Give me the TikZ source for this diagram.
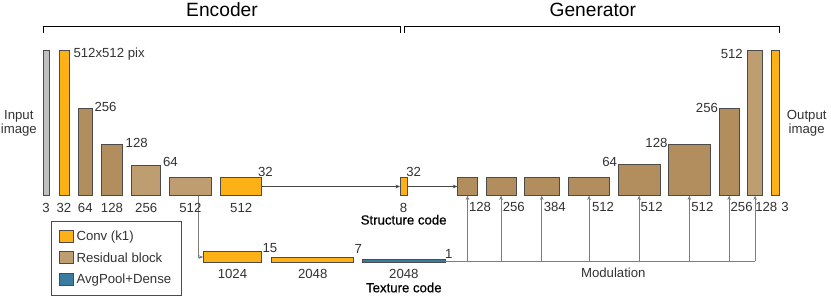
\documentclass[tikz,border=0pt]{standalone}
\usepackage{fontspec}
\setmainfont{Liberation Sans}
\newfontfamily\heavierfont[FakeBold=0.6]{Liberation Sans}
\usetikzlibrary{arrows.meta,calc}
\definecolor{convc}{RGB}{252,178,22}
\definecolor{resdark}{RGB}{178,141,94}
\definecolor{reslight}{RGB}{190,158,113}
\definecolor{inpc}{RGB}{192,192,192}
\definecolor{bluec}{RGB}{58,124,160}
\definecolor{edgec}{RGB}{75,75,75}
\definecolor{txtc}{RGB}{50,50,50}
\definecolor{linec}{RGB}{125,125,125}
\definecolor{darkline}{RGB}{70,70,70}
\begin{document}
\begin{tikzpicture}[x=1pt,y=-1pt,
  bar/.style={draw=edgec, line width=0.9pt, inner sep=0pt, outer sep=0pt, anchor=north west},
  convbar/.style={bar, fill=convc},
  resd/.style={bar, fill=resdark},
  resl/.style={bar, fill=reslight},
  inbar/.style={bar, fill=inpc},
  bluebar/.style={bar, fill=bluec},
  lbl/.style={inner sep=0pt, outer sep=0pt, text=txtc, font=\fontsize{13.2}{14}\selectfont},
  blk/.style={inner sep=0pt, outer sep=0pt, text=black, font=\heavierfont\fontsize{13.2}{14}\selectfont},
  ttl/.style={inner sep=0pt, outer sep=0pt, text=black, font=\fontsize{19.2}{22}\selectfont},
  conn/.style={draw=linec, line width=0.7pt, -{Stealth[length=4.5pt,width=3.6pt]}},
  sconn/.style={draw=darkline, line width=0.7pt, -{Stealth[length=4.5pt,width=3.6pt]}},
  brk/.style={draw=black, line width=0.9pt},
]
\useasboundingbox (0,0) rectangle (831,305);

% titles and brackets
\node[ttl, anchor=base] (enct) at (222,16.7) {Encoder};
\node[ttl, anchor=base] (gent) at (592.8,16.7) {Generator};
\draw[brk] (43.3,33) -- (43.3,26) -- (400.7,26) -- (400.7,33);
\draw[brk] (404,33) -- (404,26) -- (779,26) -- (779,33);

% encoder bars
\node[inbar, minimum width=6.3pt, minimum height=145.5pt] (in) at (43,50) {};
\node[convbar, minimum width=10pt, minimum height=145.5pt] (c0) at (59,50) {};
\node[resd, minimum width=14pt, minimum height=87pt] (r1) at (78.3,108.5) {};
\node[resd, minimum width=20.6pt, minimum height=51.5pt] (r2) at (101.7,144) {};
\node[resl, minimum width=29pt, minimum height=30.5pt] (r3) at (131.7,165) {};
\node[resl, minimum width=41.7pt, minimum height=18pt] (r4) at (169.5,177.5) {};
\node[convbar, minimum width=41pt, minimum height=18pt] (c5) at (220.7,177.5) {};
\node[convbar, minimum width=7.3pt, minimum height=18pt] (sc) at (400,177.5) {};

% generator bars
\node[resd, minimum width=20.4pt, minimum height=18pt] (g1) at (457.3,177.5) {};
\node[resd, minimum width=30pt, minimum height=18pt] (g2) at (486,177.5) {};
\node[resd, minimum width=35pt, minimum height=18pt] (g3) at (524.3,177.5) {};
\node[resd, minimum width=41.4pt, minimum height=18pt] (g4) at (568.3,177.5) {};
\node[resd, minimum width=41.7pt, minimum height=30.8pt] (g5) at (618.3,164.7) {};
\node[resd, minimum width=41.3pt, minimum height=51.5pt] (g6) at (668.7,144) {};
\node[resd, minimum width=20.3pt, minimum height=86.8pt] (g7) at (719,108.7) {};
\node[resl, minimum width=15.2pt, minimum height=145.5pt] (g8) at (747.5,50) {};
\node[convbar, minimum width=8pt, minimum height=145.5pt] (out) at (771,50) {};

% texture branch
\node[convbar, minimum width=58.4pt, minimum height=10.8pt] (t1) at (203.3,251.7) {};
\node[convbar, minimum width=82pt, minimum height=5.5pt] (t2) at (271.7,257) {};
\node[bluebar, minimum width=82.3pt, minimum height=3.3pt] (t3) at (362.7,259.3) {};

% connectors
\draw[sconn] (c5.east) -- (sc.west);
\draw[sconn] (sc.east) -- (g1.west);
\coordinate (rtap) at ($(r4.south west)+(28.8,0)$);
\draw[conn] (rtap) |- (t1.west);
\foreach \g in {g1,g2,g3,g4,g5,g6,g7,g8}{
  \coordinate (m\g) at (\g.south |- t3.east);
}
\draw[draw=linec, line width=0.7pt] (t3.east) -- (mg8);
\foreach \g in {g1,g2,g3,g4,g5,g6,g7,g8}{
  \draw[conn] (m\g) -- (\g.south);
}

% side texts
\node[lbl, anchor=base] (inp1) at (18.8,119.7) {Input};
\node[lbl, anchor=base] (inp2) at (18.8,133.5) {image};
\node[lbl, anchor=base] (outp1) at (806.7,119.7) {Output};
\node[lbl, anchor=base] (outp2) at (806.7,133.5) {image};

% top labels encoder
\node[lbl, anchor=base west] (l0) at (73.5,58) {512x512 pix};
\node[lbl, anchor=base west] (l1) at (94.5,111.7) {256};
\node[lbl, anchor=base west] (l2) at (125.7,147.7) {128};
\node[lbl, anchor=base west] (l3) at (163,166.7) {64};
\node[lbl, anchor=base west] (l4) at (258,176) {32};
\node[lbl, anchor=base west] (l5) at (406.3,176) {32};
\node[lbl, anchor=base west] (l6) at (262.5,252.3) {15};
\node[lbl, anchor=base west] (l7) at (354.5,253) {7};
\node[lbl, anchor=base west] (l8) at (445,258.3) {1};

% top labels generator
\node[lbl, anchor=base east] (k5) at (617,166.7) {64};
\node[lbl, anchor=base east] (k6) at (667.5,147.7) {128};
\node[lbl, anchor=base east] (k7) at (718,112.3) {256};
\node[lbl, anchor=base east] (k8) at (742.8,58.3) {512};

% bottom labels encoder
\node[lbl, anchor=base] (b0) at ($(in.south)+(0,16.5)$) {3};
\node[lbl, anchor=base] (b1) at ($(c0.south)+(0,16.5)$) {32};
\node[lbl, anchor=base] (b2) at ($(r1.south)+(0,16.5)$) {64};
\node[lbl, anchor=base] (b3) at ($(r2.south)+(0,16.5)$) {128};
\node[lbl, anchor=base] (b4) at ($(r3.south)+(0,16.5)$) {256};
\node[lbl, anchor=base] (b5) at ($(r4.south)+(0,16.5)$) {512};
\node[lbl, anchor=base] (b6) at ($(c5.south)+(0,16.5)$) {512};
\node[lbl, anchor=base] (b7) at ($(sc.south)+(0,16.5)$) {8};
\node[blk, anchor=base] (scode) at ($(sc.south)+(0,29)$) {Structure code};

% bottom labels generator
\node[lbl, anchor=base west] (h1) at ($(g1.south)+(1.5,16.2)$) {128};
\node[lbl, anchor=base west] (h2) at ($(g2.south)+(1.8,16.2)$) {256};
\node[lbl, anchor=base west] (h3) at ($(g3.south)+(2,16.2)$) {384};
\node[lbl, anchor=base west] (h4) at ($(g4.south)+(3,16.2)$) {512};
\node[lbl, anchor=base west] (h5) at ($(g5.south)+(1.5,16.2)$) {512};
\node[lbl, anchor=base west] (h6) at ($(g6.south)+(2,16.2)$) {512};
\node[lbl, anchor=base west] (h7) at ($(g7.south)+(1.5,16.2)$) {256};
\node[lbl, anchor=base west] (h8) at ($(g8.south)+(0.2,16.2)$) {128};
\node[lbl, anchor=base west] (h9) at ($(out.south east)+(2.3,16.2)$) {3};

% texture labels
\node[lbl, anchor=base] (tb1) at ($(t1.south)+(0,15.8)$) {1024};
\node[lbl, anchor=base] (tb2) at ($(t2.south)+(0,15.8)$) {2048};
\node[lbl, anchor=base] (tb3) at ($(t3.south)+(0,15.7)$) {2048};
\node[blk, anchor=base] (tcode) at ($(t3.south)+(0,29.7)$) {Texture code};
\node[lbl, anchor=base] (modl) at (613.3,277.7) {Modulation};

% legend
\node[bar, draw=edgec, fill=white, minimum width=130pt, minimum height=74pt] (legend) at (51,221) {};
\node[convbar, minimum width=13.5pt, minimum height=12pt] (sw1) at (59.5,230) {};
\node[resl, minimum width=13.5pt, minimum height=12pt] (sw2) at (59.5,251.5) {};
\node[bluebar, minimum width=13.5pt, minimum height=12pt] (sw3) at (59.5,273.3) {};
\node[lbl, anchor=base west] (lt1) at (76.5,240.5) {Conv (k1)};
\node[lbl, anchor=base west] (lt2) at (76.5,262) {Residual block};
\node[lbl, anchor=base west] (lt3) at (76.5,283.8) {AvgPool+Dense};
\end{tikzpicture}
\end{document}
